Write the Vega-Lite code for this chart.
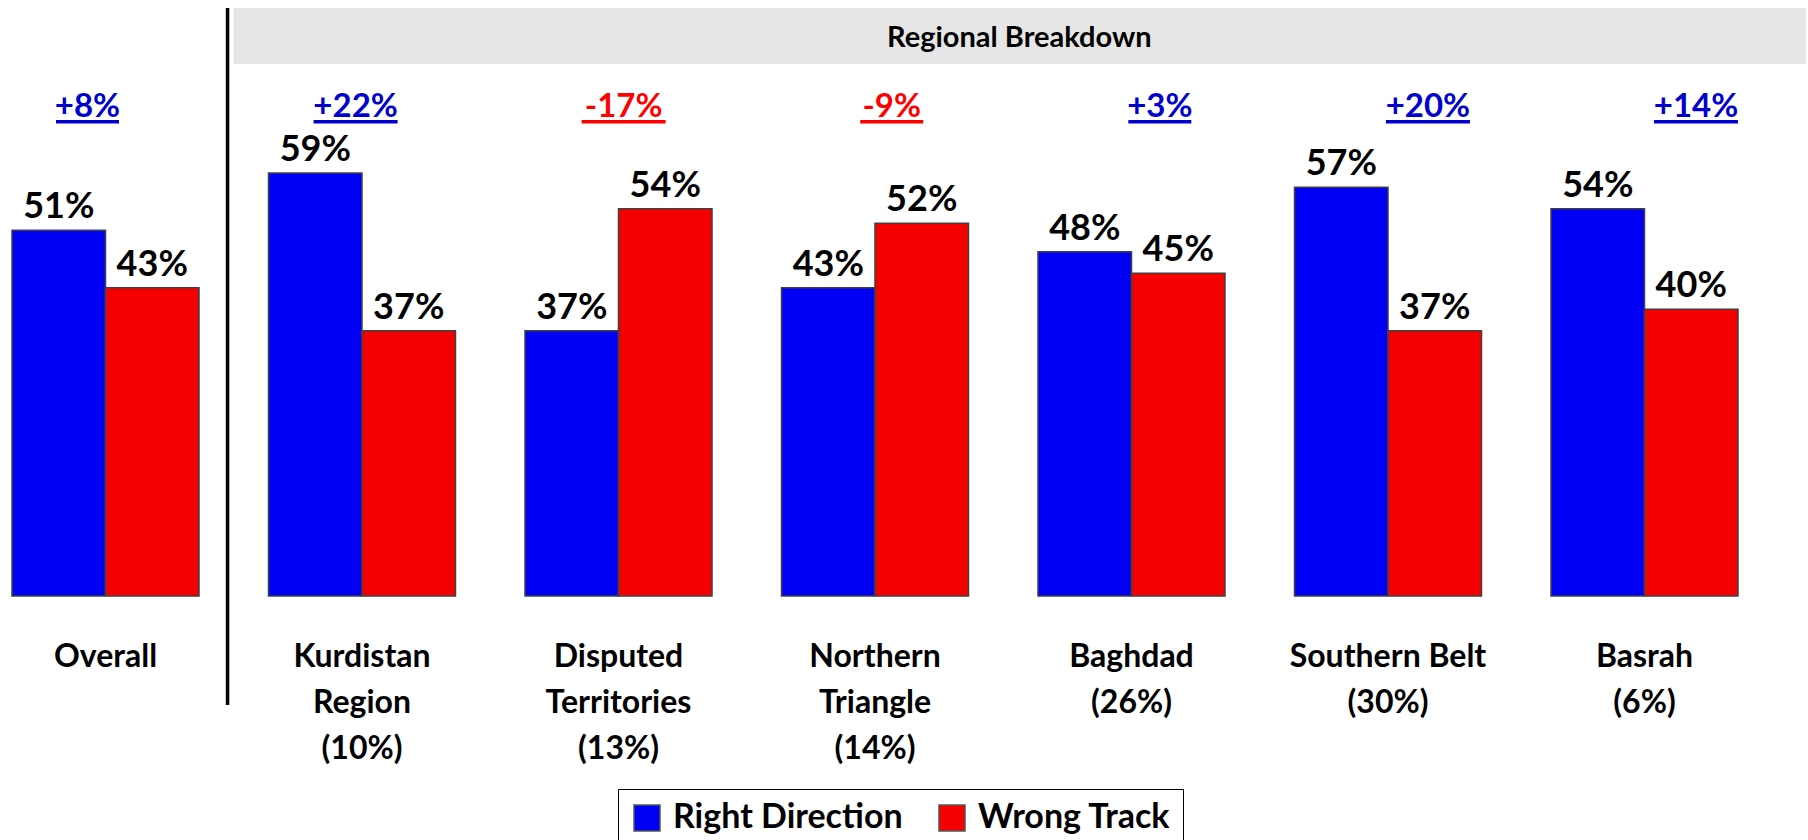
{
  "$schema": "https://vega.github.io/schema/vega-lite/v6.json",
  "width": 1750,
  "height": 840,
  "autosize": {"type": "none"},
  "padding": {"left": 0, "top": 0, "right": 58, "bottom": 0},
  "background": "white",
  "config": {
    "view": {"stroke": null},
    "font": "Lato",
    "text": {"font": "Lato", "fontWeight": "bold"}
  },
  "datasets": {
    "bars": [
      {"group": "Overall", "series": "Right Direction", "value": 0.51},
      {"group": "Overall", "series": "Wrong Track", "value": 0.43},
      {"group": "Kurdistan\nRegion\n(10%)", "series": "Right Direction", "value": 0.59},
      {"group": "Kurdistan\nRegion\n(10%)", "series": "Wrong Track", "value": 0.37},
      {"group": "Disputed\nTerritories\n(13%)", "series": "Right Direction", "value": 0.37},
      {"group": "Disputed\nTerritories\n(13%)", "series": "Wrong Track", "value": 0.54},
      {"group": "Northern\nTriangle\n(14%)", "series": "Right Direction", "value": 0.43},
      {"group": "Northern\nTriangle\n(14%)", "series": "Wrong Track", "value": 0.52},
      {"group": "Baghdad\n(26%)", "series": "Right Direction", "value": 0.48},
      {"group": "Baghdad\n(26%)", "series": "Wrong Track", "value": 0.45},
      {"group": "Southern Belt\n(30%)", "series": "Right Direction", "value": 0.57},
      {"group": "Southern Belt\n(30%)", "series": "Wrong Track", "value": 0.37},
      {"group": "Basrah\n(6%)", "series": "Right Direction", "value": 0.54},
      {"group": "Basrah\n(6%)", "series": "Wrong Track", "value": 0.40}
    ],
    "groups": [
      {"group": "Overall", "diff": 0.08},
      {"group": "Kurdistan\nRegion\n(10%)", "diff": 0.22},
      {"group": "Disputed\nTerritories\n(13%)", "diff": -0.17},
      {"group": "Northern\nTriangle\n(14%)", "diff": -0.09},
      {"group": "Baghdad\n(26%)", "diff": 0.03},
      {"group": "Southern Belt\n(30%)", "diff": 0.20},
      {"group": "Basrah\n(6%)", "diff": 0.14}
    ],
    "header": [
      {"label": "Regional Breakdown"}
    ]
  },
  "layer": [
    {
      "layer": [
        {
          "data": {"name": "header"},
          "mark": {"type": "rect", "color": "#E6E6E6"},
          "encoding": {
            "x": {"datum": "Kurdistan\nRegion\n(10%)", "type": "nominal", "bandPosition": -0.187,
                  "scale": {"domain": ["Overall", "Kurdistan\nRegion\n(10%)", "Disputed\nTerritories\n(13%)", "Northern\nTriangle\n(14%)", "Baghdad\n(26%)", "Southern Belt\n(30%)", "Basrah\n(6%)"], "paddingInner": 0.271, "paddingOuter": 0.0468},
                  "axis": null},
            "x2": {"datum": "Basrah\n(6%)", "bandPosition": 1.364},
            "y": {"datum": 0.8201, "type": "quantitative", "scale": {"domain": [-0.3403, 0.8312], "nice": false, "zero": false}, "axis": null},
            "y2": {"datum": 0.742}
          }
        },
        {
          "data": {"name": "header"},
          "mark": {"type": "text", "fontSize": 29, "baseline": "middle", "align": "center", "color": "black"},
          "encoding": {
            "x": {"datum": "Baghdad\n(26%)", "type": "nominal", "bandPosition": -0.1},
            "y": {"datum": 0.7789, "type": "quantitative", "scale": {"domain": [-0.3403, 0.8312], "nice": false, "zero": false}},
            "text": {"field": "label"}
          }
        },
        {
          "data": {"name": "header"},
          "mark": {"type": "rule", "color": "black", "strokeWidth": 3.5},
          "encoding": {
            "x": {"datum": "Kurdistan\nRegion\n(10%)", "type": "nominal", "bandPosition": -0.219},
            "y": {"datum": 0.8201, "type": "quantitative", "scale": {"domain": [-0.3403, 0.8312], "nice": false, "zero": false}},
            "y2": {"datum": -0.152}
          }
        },
        {
          "data": {"name": "bars"},
          "mark": {"type": "bar", "stroke": "#404040", "strokeWidth": 1.5},
          "encoding": {
            "x": {"field": "group", "type": "nominal", "sort": null},
            "xOffset": {"field": "series", "type": "nominal", "scale": {"paddingInner": 0, "paddingOuter": 0}},
            "y": {"field": "value", "type": "quantitative", "scale": {"domain": [-0.3403, 0.8312], "nice": false, "zero": false}},
            "color": {
              "field": "series", "type": "nominal",
              "scale": {"domain": ["Right Direction", "Wrong Track"], "range": ["#0000F5", "#F50000"]},
              "legend": {
                "orient": "none", "legendX": 618, "legendY": 789, "direction": "horizontal",
                "title": null, "symbolType": "square", "symbolSize": 676,
                "symbolStrokeColor": "#555555", "symbolStrokeWidth": 1.5, "symbolOpacity": 1,
                "labelFont": "Lato", "labelFontWeight": "bold", "labelFontSize": 34, "labelColor": "black",
                "labelOffset": 9, "labelLimit": 400, "columnPadding": 32, "padding": 12,
                "strokeColor": "black", "fillColor": "white"
              }
            }
          }
        },
        {
          "data": {"name": "bars"},
          "mark": {"type": "text", "fontSize": 36, "baseline": "alphabetic", "dy": -12, "color": "black"},
          "encoding": {
            "x": {"field": "group", "type": "nominal", "sort": null},
            "xOffset": {"field": "series", "type": "nominal", "scale": {"paddingInner": 0, "paddingOuter": 0}},
            "y": {"field": "value", "type": "quantitative", "scale": {"domain": [-0.3403, 0.8312], "nice": false, "zero": false}},
            "text": {"field": "value", "type": "quantitative", "format": ".0%"}
          }
        },
        {
          "data": {"name": "groups"},
          "mark": {"type": "text", "fontSize": 32, "lineHeight": 46, "lineBreak": "\n", "baseline": "alphabetic", "align": "center", "color": "black"},
          "encoding": {
            "x": {"field": "group", "type": "nominal", "sort": null},
            "y": {"datum": -0.099, "type": "quantitative", "scale": {"domain": [-0.3403, 0.8312], "nice": false, "zero": false}},
            "text": {"field": "group"}
          }
        }
      ]
    },
    {
      "data": {"name": "groups"},
      "transform": [
        {"calculate": "(datum.diff > 0 ? '+' : '-') + format(abs(datum.diff), '.0%')", "as": "difflabel"},
        {"calculate": "length(datum.difflabel)", "as": "len"}
      ],
      "encoding": {
        "x": {"field": "group", "type": "nominal", "sort": null,
              "scale": {"type": "point", "domain": ["Overall", "Kurdistan\nRegion\n(10%)", "Disputed\nTerritories\n(13%)", "Northern\nTriangle\n(14%)", "Baghdad\n(26%)", "Southern Belt\n(30%)", "Basrah\n(6%)"], "range": [87.5, 1696], "padding": 0},
              "axis": null},
        "color": {"condition": {"test": "datum.diff < 0", "value": "#FF0000"}, "value": "#0000CC"}
      },
      "layer": [
        {
          "mark": {"type": "bar"},
          "encoding": {
            "y": {"datum": 0.6639, "type": "quantitative", "scale": {"domain": [-0.3403, 0.8312], "nice": false, "zero": false}},
            "y2": {"datum": 0.659},
            "size": {"field": "len", "type": "quantitative", "scale": {"domain": [0, 4], "range": [0, 84], "zero": true}, "legend": null}
          }
        },
        {
          "mark": {"type": "text", "fontSize": 33, "baseline": "alphabetic", "align": "center"},
          "encoding": {
            "y": {"datum": 0.668, "type": "quantitative", "scale": {"domain": [-0.3403, 0.8312], "nice": false, "zero": false}},
            "text": {"field": "difflabel"}
          }
        }
      ]
    }
  ],
  "resolve": {"scale": {"x": "independent"}}
}
